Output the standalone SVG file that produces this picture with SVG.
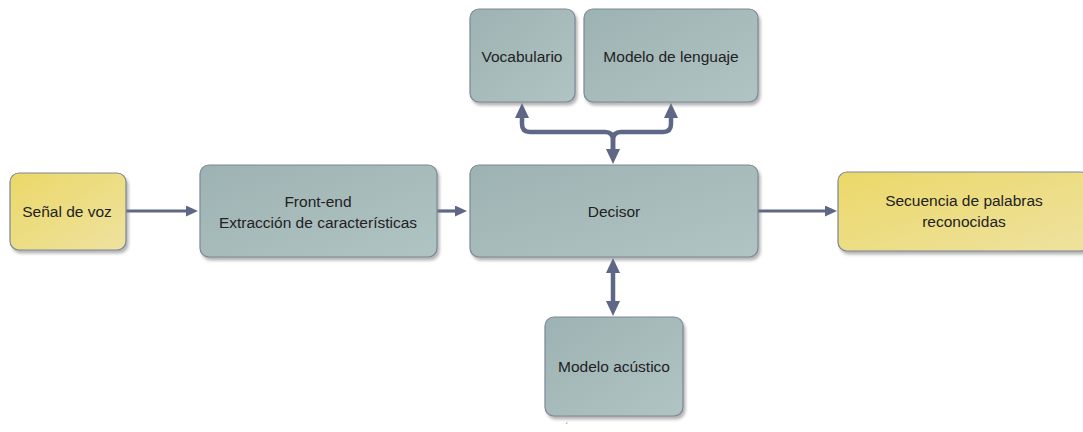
<svg xmlns="http://www.w3.org/2000/svg" width="1083" height="432" viewBox="0 0 1083 432">
<defs>
<style>
.box{stroke:#7c8898;stroke-width:1.2;filter:url(#sh)}
.g{fill:url(#gray)}
.y{fill:url(#yel)}
.t{font-family:"Liberation Sans",Arial,sans-serif;font-size:15.5px;fill:#222;text-anchor:middle}
.c{fill:none;stroke:#5e6786;stroke-linejoin:round}
.h{stroke-width:3.2}
.v{stroke-width:4.5}
</style>
<linearGradient id="gray" x1="0" y1="0" x2="1" y2="1">
<stop offset="0" stop-color="#9db2b2"/>
<stop offset="1" stop-color="#b1c4c4"/>
</linearGradient>
<linearGradient id="yel" x1="0" y1="0" x2="1" y2="1">
<stop offset="0" stop-color="#ebd868"/>
<stop offset="1" stop-color="#eee2a0"/>
</linearGradient>
<filter id="sh" x="-10%" y="-10%" width="125%" height="130%">
<feDropShadow dx="2" dy="3" stdDeviation="1.4" flood-color="#777" flood-opacity="0.55"/>
</filter>
<marker id="ah" markerUnits="userSpaceOnUse" markerWidth="12" markerHeight="11" refX="0" refY="5.5" orient="auto-start-reverse" viewBox="0 0 12 11">
<path d="M0,0 L12,5.5 L0,11 z" fill="#5e6786"/>
</marker>
<marker id="av" markerUnits="userSpaceOnUse" markerWidth="15" markerHeight="14" refX="0" refY="7" orient="auto-start-reverse" viewBox="0 0 15 14">
<path d="M0,0 L15,7 L0,14 z" fill="#5e6786"/>
</marker>
</defs>

<g id="connectors">
<path class="c h" d="M126,211 L186,211" marker-end="url(#ah)"/>
<path class="c h" d="M437,211 L455,211" marker-end="url(#ah)"/>
<path class="c h" d="M758,211 L825,211" marker-end="url(#ah)"/>
<path class="c v" d="M522,118 L522,124 Q522,132 530,132 L605,132 Q613,132 613,140 L613,149" marker-start="url(#av)" marker-end="url(#av)"/>
<path class="c v" d="M671,118 L671,124 Q671,132 663,132 L621,132 Q613,132 613,140 L613,149" marker-start="url(#av)"/>
<path class="c v" d="M613,273 L613,301" marker-start="url(#av)" marker-end="url(#av)"/>
</g>

<g id="senal">
<rect class="box y" x="10" y="173" width="116" height="77" rx="9"/>
<text class="t" x="67" y="217">Señal de voz</text>
</g>

<g id="frontend">
<rect class="box g" x="200" y="165" width="237" height="92" rx="9"/>
<text class="t" x="318" y="207">Front-end</text>
<text class="t" x="318" y="228">Extracción de características</text>
</g>

<g id="decisor">
<rect class="box g" x="470" y="165" width="288" height="92" rx="9"/>
<text class="t" x="614" y="217">Decisor</text>
</g>

<g id="vocabulario">
<rect class="box g" x="470" y="9" width="105" height="93" rx="9"/>
<text class="t" x="522" y="62">Vocabulario</text>
</g>

<g id="lenguaje">
<rect class="box g" x="584" y="9" width="174" height="93" rx="9"/>
<text class="t" x="671" y="62">Modelo de lenguaje</text>
</g>

<g id="acustico">
<rect class="box g" x="545" y="317" width="138" height="99" rx="9"/>
<text class="t" x="614" y="372">Modelo acústico</text>
</g>

<g id="salida">
<rect class="box y" x="838" y="172" width="252" height="79" rx="9"/>
<text class="t" x="964" y="206">Secuencia de palabras</text>
<text class="t" x="964" y="227">reconocidas</text>
</g>

<text x="567" y="429" style="font-family:'Liberation Sans',Arial,sans-serif;font-size:9px;fill:#777;text-anchor:middle">´</text>
</svg>
